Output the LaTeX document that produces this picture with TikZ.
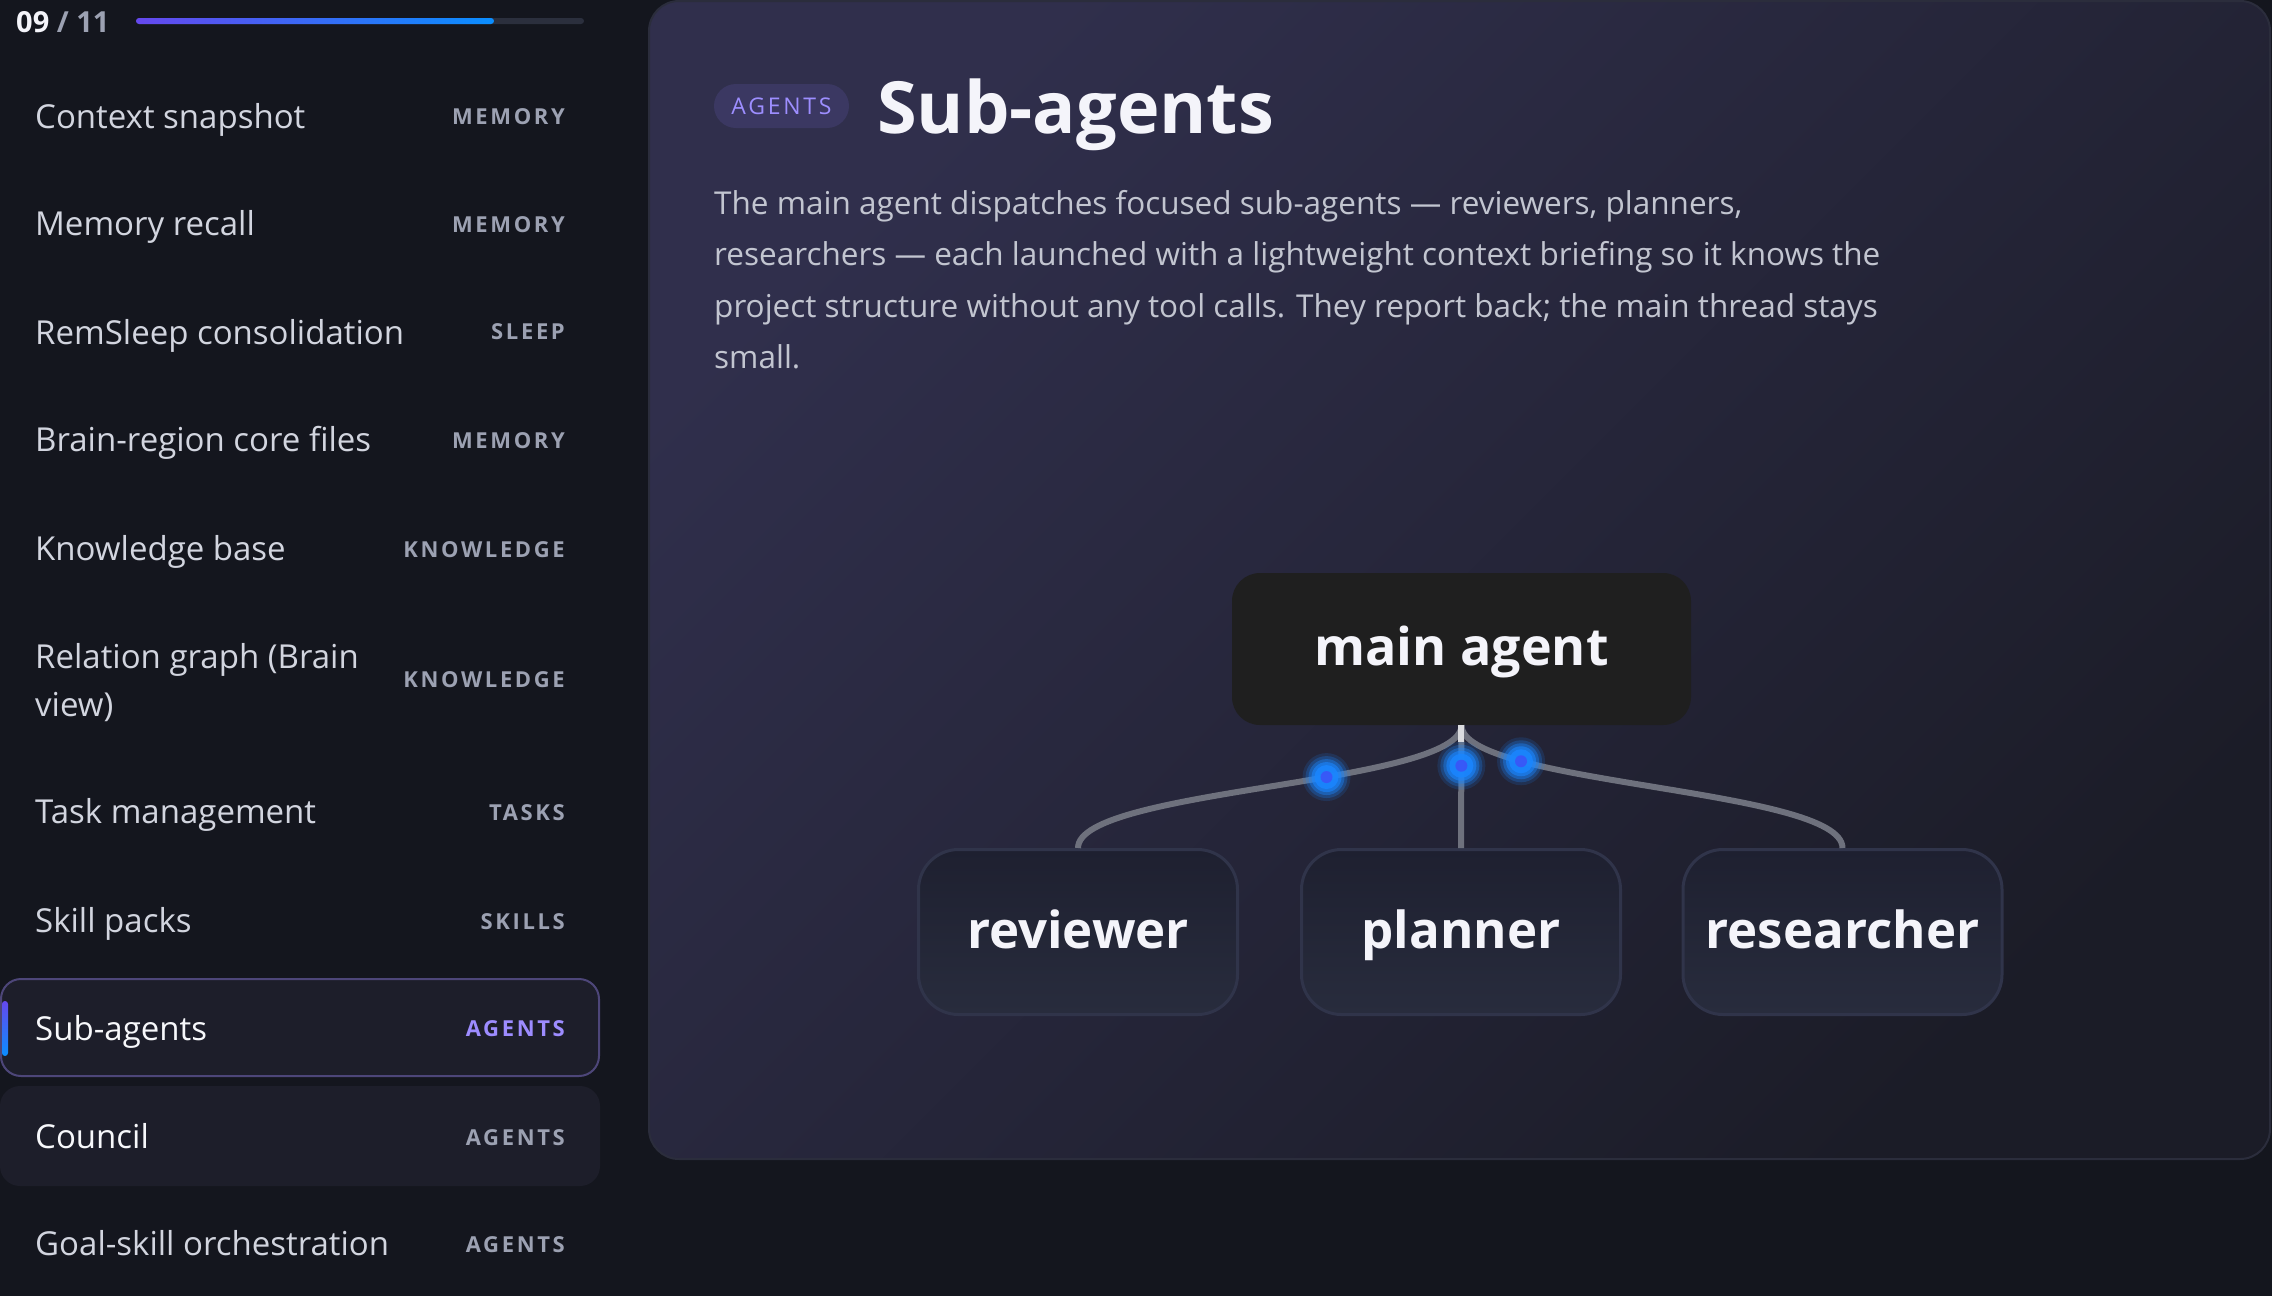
\documentclass[tikz,border=0pt]{standalone}
\usepackage{fontspec}
\setmainfont{Open Sans}
\newfontfamily\tagfont[LetterSpace=12]{Open Sans}
\definecolor{pagebg}{HTML}{14161E}
\definecolor{panelA}{HTML}{302F4C}
\definecolor{panelB}{HTML}{1B1C27}
\definecolor{panelline}{HTML}{2B2D3C}
\definecolor{pillfill}{HTML}{3B3862}
\definecolor{pilltext}{HTML}{9D8EFF}
\definecolor{titlecol}{HTML}{F4F4FA}
\definecolor{desccol}{HTML}{C2C5D0}
\definecolor{mainfill}{HTML}{1F1F1F}
\definecolor{subtop}{HTML}{1E2030}
\definecolor{subbot}{HTML}{282C3D}
\definecolor{subline}{HTML}{30344A}
\definecolor{wire}{HTML}{6E717D}
\definecolor{glowblue}{HTML}{1A86FF}
\definecolor{glowcore}{HTML}{4B3CF5}
\definecolor{selfill}{HTML}{1D1E2A}
\definecolor{selline}{HTML}{4D4679}
\definecolor{itemcol}{HTML}{D2D5DF}
\definecolor{itemwhite}{HTML}{F7F8FB}
\definecolor{tagcol}{HTML}{9CA1B2}
\definecolor{tagact}{HTML}{9D8CFF}
\definecolor{track}{HTML}{2B2F3D}
\definecolor{barA}{HTML}{6548EE}
\definecolor{barB}{HTML}{0A8EFF}
\begin{document}
\begin{tikzpicture}[x=1pt,y=-1pt,
  itemtext/.style={anchor=base west, inner sep=0pt, text=itemcol, font=\fontsize{33}{38}\selectfont},
  tagtext/.style={anchor=base east, inner sep=0pt, text=tagcol, font=\tagfont\bfseries\fontsize{22}{26}\selectfont},
  desctext/.style={anchor=base west, inner sep=0pt, text=desccol, font=\fontsize{31.5}{36}\selectfont},
  subbox/.style={draw=subline, line width=3pt, top color=subtop, bottom color=subbot,
    rounded corners=40pt, minimum width=319pt, minimum height=165pt, inner sep=0pt,
    text=titlecol, font=\bfseries\fontsize{51}{60}\selectfont, text height=36pt, text depth=4pt},
  wireline/.style={draw=wire, line width=6pt},
]
\useasboundingbox (0,0) rectangle (2272,1296);
\fill[pagebg] (0,0) rectangle (2272,1296);

% main panel
\shade[rounded corners=30pt, top color=panelA, bottom color=panelB, shading angle=45]
  (649,1) rectangle (2270,1159);
\draw[panelline, line width=2pt, rounded corners=30pt] (649,1) rectangle (2270,1159);

% progress
\node[anchor=base west, inner sep=0pt, font=\bfseries\fontsize{29}{32}\selectfont, text=titlecol] (prog) at (16,32)
  {09 \textcolor{tagcol}{/ 11}};
\fill[track, rounded corners=3pt] (136,18) rectangle (584,24);
\shade[left color=barA, right color=barB, rounded corners=3pt] (136,18) rectangle (494,24);

% sidebar highlighted boxes
\node[draw=selline, fill=selfill, line width=2pt, rounded corners=20pt, minimum width=598pt, minimum height=97pt, inner sep=0pt] (selbox) at (300,1027.5) {};
\shade[top color=barA, bottom color=barB, rounded corners=3pt] (2,1001) rectangle (8,1056);
\node[fill=selfill, rounded corners=20pt, minimum width=600pt, minimum height=100pt, inner sep=0pt] (councilbox) at (300,1136) {};

% sidebar items
\node[itemtext] (i1) at (35,128) {Context snapshot};
\node[tagtext] (t1) at (565,124) {MEMORY};
\node[itemtext] (i2) at (35,235) {Memory recall};
\node[tagtext] (t2) at (565,232) {MEMORY};
\node[itemtext] (i3) at (35,344) {RemSleep consolidation};
\node[tagtext] (t3) at (565,339) {SLEEP};
\node[itemtext] (i4) at (35,451) {Brain-region core files};
\node[tagtext] (t4) at (565,448) {MEMORY};
\node[itemtext] (i5) at (35,560) {Knowledge base};
\node[tagtext] (t5) at (565,557) {KNOWLEDGE};
\node[itemtext] (i6a) at (35,668) {Relation graph (Brain};
\node[itemtext] (i6b) at (35,716) {view)};
\node[tagtext] (t6) at (565,687) {KNOWLEDGE};
\node[itemtext] (i7) at (35,823) {Task management};
\node[tagtext] (t7) at (565,820) {TASKS};
\node[itemtext] (i8) at (35,932) {Skill packs};
\node[tagtext] (t8) at (565,929) {SKILLS};
\node[itemtext, text=itemwhite] (i9) at (35,1040) {Sub-agents};
\node[tagtext, text=tagact] (t9) at (565,1036) {AGENTS};
\node[itemtext, text=itemwhite] (i10) at (35,1148) {Council};
\node[tagtext] (t10) at (565,1145) {AGENTS};
\node[itemtext] (i11) at (35,1255) {Goal-skill orchestration};
\node[tagtext] (t11) at (565,1252) {AGENTS};

% header
\node[fill=pillfill, rounded corners=22pt, minimum width=135pt, minimum height=44pt, inner sep=0pt,
  text=pilltext, font=\tagfont\fontsize{23}{26}\selectfont] (pill) at (781.5,106) {AGENTS};
\node[anchor=base west, inner sep=0pt, text=titlecol, font=\bfseries\fontsize{72}{80}\selectfont] (title) at (877,133) {Sub-agents};
\node[desctext] (d1) at (714,214) {The main agent dispatches focused sub-agents — reviewers, planners,};
\node[desctext] (d2) at (714,265) {researchers — each launched with a lightweight context briefing so it knows the};
\node[desctext] (d3) at (714,317) {project structure without any tool calls. They report back; the main thread stays};
\node[desctext] (d4) at (714,368) {small.};

% diagram
\node[fill=mainfill, rounded corners=28pt, minimum width=459pt, minimum height=152pt, inner sep=0pt,
  text=titlecol, font=\bfseries\fontsize{52}{60}\selectfont, text height=36pt, text depth=4pt] (main) at (1461.5,649) {main agent};
\node[subbox] (rev) at (1078,932) {reviewer};
\node[subbox] (plan) at (1461,932) {planner};
\node[subbox] (res) at (1842.5,932) {researcher};

\draw[wireline] (main.south) -- (plan.north) coordinate[pos=0.33] (g2);
\draw[wireline] (main.south) .. controls +(0,60) and +(0,-60) .. (rev.north) coordinate[pos=0.4] (g1);
\draw[wireline] (main.south) .. controls +(0,60) and +(0,-60) .. (res.north) coordinate[pos=0.25] (g3);
\fill[white!75!wire] (1458,725) rectangle (1464,742);

\foreach \g in {g1,g2,g3}{
  \foreach \r/\o in {24/0.15,21/0.25,18/0.4,15/0.6,12/0.85}
    \fill[glowblue, opacity=\o] (\g) circle[radius=\r];
  \fill[glowcore, opacity=0.6] (\g) circle[radius=6];
}
\end{tikzpicture}
\end{document}
